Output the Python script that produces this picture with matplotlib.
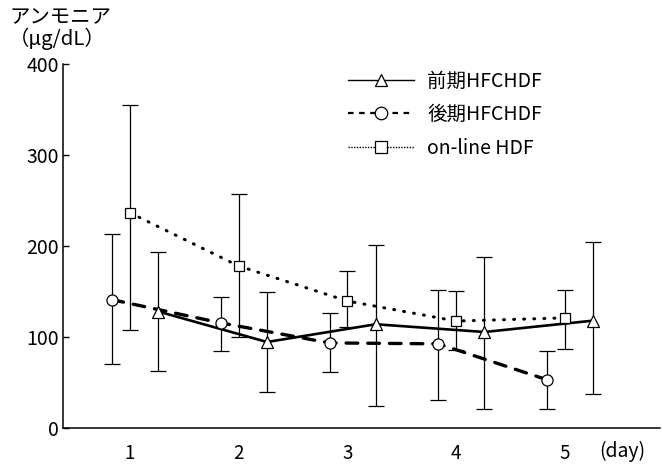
import matplotlib
matplotlib.use("Agg")
import matplotlib.pyplot as plt
from matplotlib.lines import Line2D
import numpy as np

plt.rcParams['font.family'] = ['Noto Sans CJK JP', 'DejaVu Sans']

days = [1, 2, 3, 4, 5]
day_labels = ["1", "2", "3", "4", "5"]
y_ticks = [0, 100, 200, 300, 400]

series_names = ["前期HFCHDF", "後期HFCHDF", "on-line HDF"]

early_mean = [128, 94.5, 114, 105.5, 118]
early_upper = [193, 150, 201, 188, 204]
early_lower = [63, 40, 24, 21, 37]

late_mean = [141, 115.5, 93.5, 92.5, 53]
late_upper = [213, 144, 126, 152, 85]
late_lower = [70, 85, 62, 31, 21]

online_mean = [236.5, 178, 139.5, 117.5, 121]
online_upper = [355, 257, 172.5, 150.5, 152]
online_lower = [108, 100, 111, 86, 87]

fig = plt.figure(figsize=(6.63, 4.66), dpi=100)
ax = fig.add_axes([63/663, 38/466, (660-63)/663, (428-64)/466])

ax.set_xlim(0.384, 5.874)
ax.set_ylim(0, 400)

def plot_series(offset, mean, lo, hi, ls, marker, lw, msize):
    x = np.array(days) + offset
    m = np.array(mean)
    yerr = [m - np.array(lo), np.array(hi) - m]
    ax.errorbar(x, m, yerr=yerr, fmt='none', ecolor='black', elinewidth=0.9,
                capsize=5.5, capthick=0.9, zorder=2)
    ax.plot(x, m, color='black', linestyle=ls, lw=lw, zorder=3,
            dash_capstyle='round' if ls != '-' else 'butt')
    ax.plot(x, m, linestyle='none', marker=marker, markersize=msize,
            markerfacecolor='white', markeredgecolor='black', markeredgewidth=0.9, zorder=4)

plot_series(0.0, online_mean, online_lower, online_upper, (0, (0.3, 3.0)), 's', 2.2, 7)
plot_series(-0.165, late_mean, late_lower, late_upper, (0, (3.5, 3.0)), 'o', 2.4, 8)
plot_series(0.26, early_mean, early_lower, early_upper, '-', '^', 1.9, 8)

for s in ['top', 'right']:
    ax.spines[s].set_visible(False)
ax.spines['left'].set_linewidth(1.1)
ax.spines['bottom'].set_linewidth(1.1)

ax.set_xticks(days)
ax.set_xticklabels(day_labels)
ax.set_yticks(y_ticks)
ax.tick_params(axis='x', length=0, pad=11, labelsize=13.5)
ax.tick_params(axis='y', direction='in', length=4, width=1, pad=3, labelsize=14)

handles = [
    Line2D([], [], color='black', lw=1.0, linestyle='-', marker='^', markersize=9,
           markerfacecolor='white', markeredgecolor='black', markeredgewidth=0.9),
    Line2D([], [], color='black', lw=1.6, linestyle=(0, (2.5, 2.5)), marker='o', markersize=9,
           markerfacecolor='white', markeredgecolor='black', markeredgewidth=0.9),
    Line2D([], [], color='black', lw=1.0, linestyle=(0, (1, 1)), marker='s', markersize=8,
           markerfacecolor='white', markeredgecolor='black', markeredgewidth=0.9),
]
leg = fig.legend(handles, series_names, loc='upper left',
                 bbox_to_anchor=(330/663, 1 - 53/466), frameon=False,
                 fontsize=14, handlelength=3.4, handletextpad=0.7, labelspacing=0.65)

fig.text(9/663, 1 - 7/466, "アンモニア\n（μg/dL）", ha='left', va='top', fontsize=14.7,
         linespacing=1.0)
fig.text(599/663, 1 - 451/466, "(day)", ha='left', va='center', fontsize=14)

fig.savefig("out.png", dpi=100)
